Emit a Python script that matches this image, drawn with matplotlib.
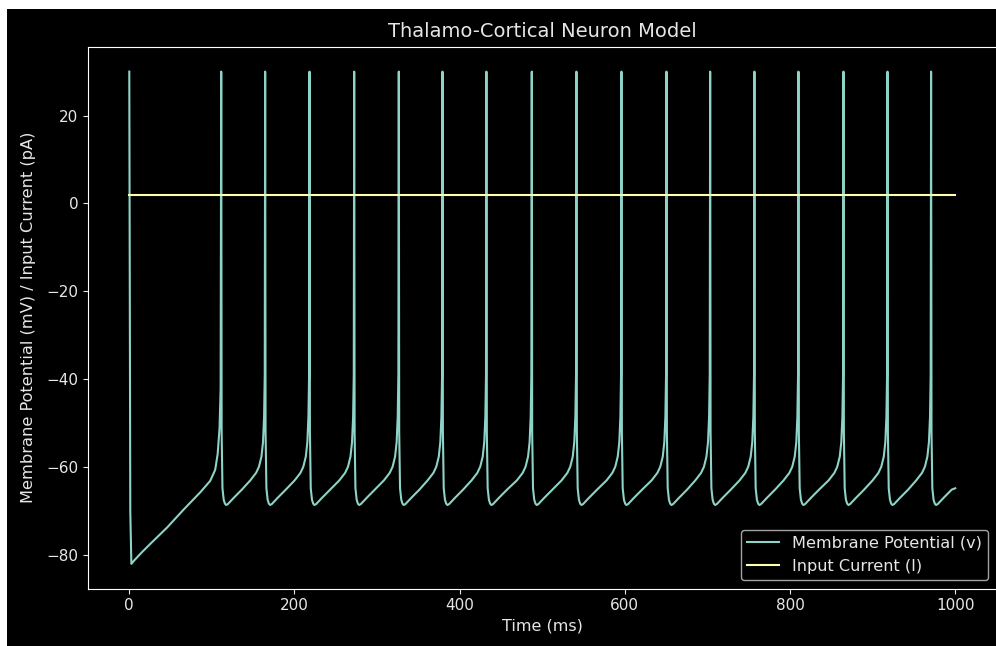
import matplotlib
matplotlib.use("Agg")
import matplotlib.pyplot as plt
from matplotlib.patches import Rectangle
import numpy as np

# ---- data ----
# spike peak times (ms)
spike_times = [0.0, 111.3, 164.5, 218.2, 272.3, 326.3, 379.2, 432.4, 487.3,
               541.4, 595.9, 650.4, 703.3, 756.9, 810.2, 864.7, 918.0, 970.8]
spike_peak = 30.0

# first interval (after the spike at t=0): absolute times / voltages
first_t = [1.2, 2.5, 6.0, 15.0, 25.7, 45.9, 66.0, 86.0, 98.0, 104.0, 107.0, 109.3, 110.6]
first_v = [-70.0, -82.0, -81.2, -79.4, -77.4, -73.7, -69.6, -65.7, -63.1, -60.6, -57.0, -51.0, -42.0]

# regular interval: part measured from the previous spike
post_dt = [0.5, 1.5, 3.0, 4.5, 6.0, 8.0, 15.0, 25.0]
post_v = [-52.0, -64.8, -67.4, -68.3, -68.6, -68.4, -67.0, -65.1]
# part measured back from the next spike
pre_dt = [-18.0, -11.0, -7.5, -4.5, -2.6, -1.3, -0.5]
pre_v = [-63.0, -61.3, -59.9, -57.6, -54.3, -48.5, -39.0]

# end of the trace
end_t = 1000.0
end_v = -64.8

# input current
current_t = [0.0, 1000.0]
current_v = [2.0, 2.0]

# ---- assemble trace from read values ----
t_pts = [spike_times[0]]
v_pts = [spike_peak]
t_pts += first_t
v_pts += first_v
for i in range(1, len(spike_times)):
    ts = spike_times[i]
    t_pts.append(ts)
    v_pts.append(spike_peak)
    t_pts += [ts + d for d in post_dt]
    v_pts += post_v
    if i + 1 < len(spike_times):
        tn = spike_times[i + 1]
        t_pts += [tn + d for d in pre_dt]
        v_pts += pre_v
t_pts.append(end_t)
v_pts.append(end_v)

plt.style.use("dark_background")
text_col = "#e6e6e6"
plt.rcParams.update({
    "text.color": text_col,
    "axes.labelcolor": text_col,
    "xtick.color": text_col,
    "ytick.color": text_col,
})

fig = plt.figure(figsize=(9.96, 6.46), dpi=100)
fig.patch.set_facecolor("black")
# white edge strips seen in the reference
fig.patches.append(Rectangle((0, 0), 7 / 996, 1, transform=fig.transFigure,
                             facecolor="white", edgecolor="none", zorder=10))
fig.patches.append(Rectangle((0, 1 - 9 / 646), 1, 9 / 646, transform=fig.transFigure,
                             facecolor="white", edgecolor="none", zorder=10))

ax = fig.add_axes([88 / 996, (646 - 588.5) / 646, 908.5 / 996, (588.5 - 47) / 646])
ax.plot(t_pts, v_pts, label="Membrane Potential (v)")
ax.plot(current_t, current_v, label="Input Current (I)")
ax.set_title("Thalamo-Cortical Neuron Model", fontsize=14, pad=7)
ax.set_xlabel("Time (ms)", fontsize=11.5)
ax.set_ylabel("Membrane Potential (mV) / Input Current (pA)", fontsize=11.7, labelpad=7)
ax.tick_params(labelsize=11)
ax.legend(loc="lower right", fontsize=11.6)

fig.savefig("out.png", dpi=100, facecolor=fig.get_facecolor())
